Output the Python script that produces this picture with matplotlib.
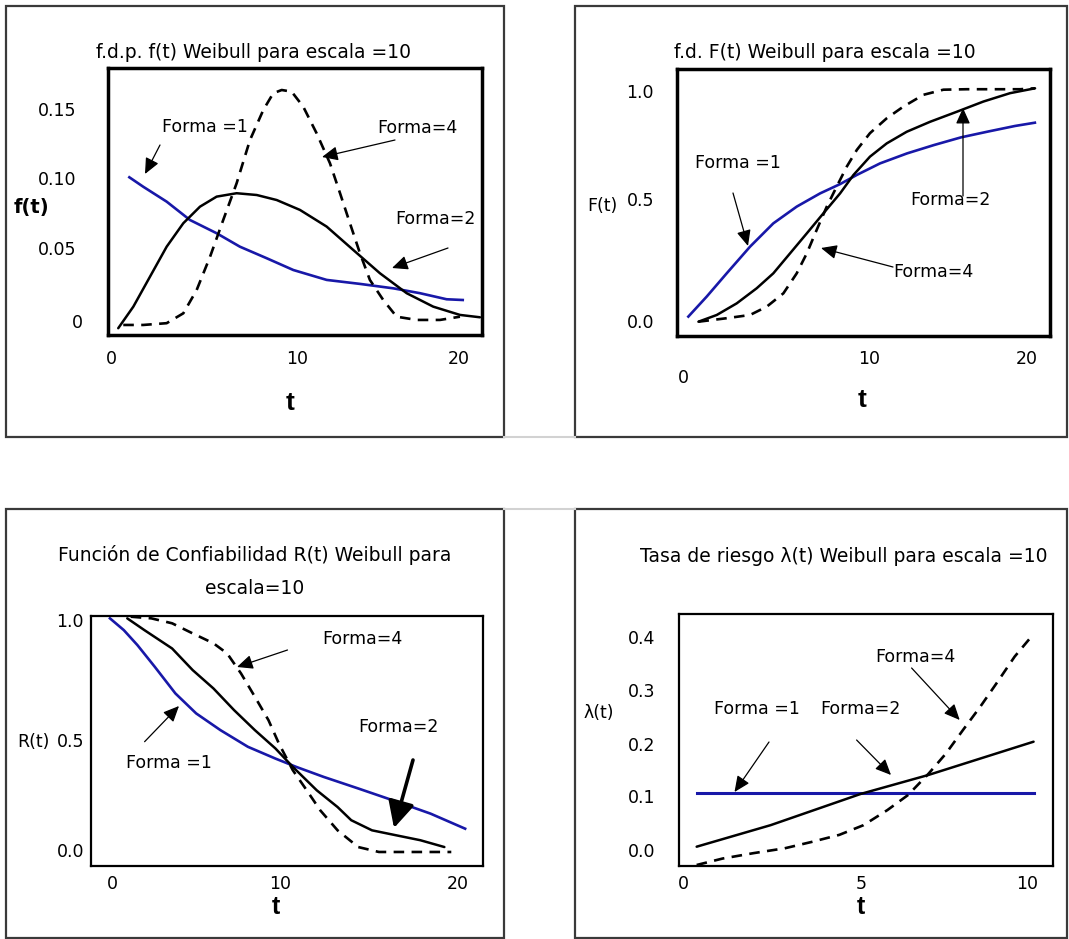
import matplotlib
matplotlib.use("Agg")
import matplotlib.pyplot as plt
from matplotlib.patches import Rectangle, FancyArrowPatch
from matplotlib.lines import Line2D

# ------------------------------------------------------------------ data
# Panel 1: f.d.p. f(t)
pdf_t_k1 = [1.03, 1.83, 3.18, 4.52, 6.06, 7.40, 8.94, 10.48, 12.40, 14.32, 16.24, 17.78, 19.31, 20.24]
pdf_k1 = [0.100, 0.0936, 0.0835, 0.0711, 0.0621, 0.0530, 0.0452, 0.0372, 0.0305, 0.0278, 0.0248, 0.0215, 0.0174, 0.0169]
pdf_t_k2 = [0.39, 1.26, 2.22, 3.18, 4.14, 5.10, 6.06, 7.21, 8.37, 9.52, 10.86, 12.40, 13.93, 15.47, 17.01, 18.54, 20.08, 21.23]
pdf_k2 = [-0.0022, 0.0124, 0.0327, 0.0530, 0.0689, 0.0801, 0.0869, 0.0892, 0.0880, 0.0846, 0.0779, 0.0666, 0.0508, 0.0350, 0.0215, 0.0124, 0.0068, 0.0052]
pdf_t_k4 = [0.68, 1.83, 3.18, 4.14, 4.91, 5.68, 6.44, 7.21, 7.98, 8.75, 9.32, 9.81, 10.38, 11.05, 11.82, 12.59, 13.17, 13.74, 14.32, 14.89, 15.66, 16.43, 17.59, 18.93, 20.08]
pdf_k4 = [0.0, 0.0, 0.0012, 0.0079, 0.0237, 0.0462, 0.0711, 0.0959, 0.1252, 0.1456, 0.1569, 0.1591, 0.1580, 0.1478, 0.1298, 0.1095, 0.0892, 0.0689, 0.0485, 0.0305, 0.0169, 0.0056, 0.0034, 0.0034, 0.0056]

# Panel 2: f.d. F(t)
cdf_t_k1 = [0.85, 1.87, 2.98, 4.28, 5.57, 6.87, 8.17, 9.28, 10.2, 11.5, 13.0, 14.5, 16.0, 17.5, 19.0, 20.1]
cdf_k1 = [0.022, 0.108, 0.208, 0.323, 0.423, 0.495, 0.552, 0.592, 0.631, 0.681, 0.724, 0.760, 0.793, 0.818, 0.842, 0.856]
cdf_t_k2 = [1.41, 2.43, 3.54, 4.65, 5.57, 6.5, 7.43, 8.35, 9.28, 10.02, 10.94, 11.87, 12.98, 14.28, 15.76, 17.24, 18.72, 20.11]
cdf_k2 = [0.0, 0.029, 0.079, 0.144, 0.208, 0.294, 0.380, 0.466, 0.552, 0.631, 0.710, 0.767, 0.817, 0.860, 0.903, 0.947, 0.983, 1.004]
cdf_t_k4 = [1.41, 2.98, 4.28, 5.21, 6.13, 6.87, 7.43, 7.98, 8.54, 9.09, 9.65, 10.21, 10.94, 11.87, 12.79, 13.91, 15.02, 16.32, 17.79, 19.28, 20.11]
cdf_k4 = [0.0, 0.015, 0.029, 0.065, 0.122, 0.208, 0.294, 0.395, 0.495, 0.581, 0.667, 0.739, 0.811, 0.875, 0.925, 0.976, 0.998, 1.0, 1.0, 1.0, 1.004]

# Panel 3: R(t)
rel_t_k1 = [0.01, 0.77, 1.52, 2.47, 3.60, 4.74, 6.07, 7.58, 9.09, 10.22, 11.74, 13.63, 15.52, 17.60, 19.50]
rel_k1 = [0.993, 0.943, 0.879, 0.787, 0.674, 0.589, 0.518, 0.447, 0.397, 0.362, 0.319, 0.270, 0.220, 0.163, 0.099]
rel_t_k2 = [0.96, 1.90, 3.42, 4.55, 5.69, 6.82, 7.96, 9.09, 10.04, 11.36, 12.50, 13.25, 14.39, 15.71, 17.04, 18.36]
rel_k2 = [0.993, 0.943, 0.865, 0.773, 0.695, 0.603, 0.518, 0.440, 0.362, 0.262, 0.191, 0.135, 0.092, 0.071, 0.050, 0.021]
rel_t_k4 = [1.15, 2.28, 3.42, 4.55, 5.69, 6.44, 7.20, 7.96, 8.71, 9.28, 10.04, 10.80, 11.55, 12.50, 13.63, 14.77, 16.66, 18.74]
rel_k4 = [1.0, 0.993, 0.972, 0.929, 0.887, 0.844, 0.759, 0.660, 0.560, 0.461, 0.348, 0.263, 0.177, 0.092, 0.021, 0.0, 0.0, 0.0]

# Panel 4: tasa de riesgo lambda(t)
haz_t_k1 = [0.39, 2.5, 5.0, 7.5, 10.0]
haz_k1 = [0.104, 0.104, 0.104, 0.104, 0.104]
haz_t_k2 = [0.39, 2.5, 5.07, 6.99, 10.0]
haz_k2 = [0.005, 0.045, 0.103, 0.138, 0.200]
haz_t_k4 = [0.39, 1.13, 2.01, 2.90, 3.68, 4.46, 5.15, 5.83, 6.42, 7.01, 7.50, 7.99, 8.48, 8.97, 9.46, 10.0]
haz_k4 = [-0.029, -0.017, -0.007, 0.002, 0.014, 0.027, 0.045, 0.073, 0.101, 0.141, 0.178, 0.222, 0.265, 0.311, 0.358, 0.400]

# texts
titles = ["f.d.p. f(t) Weibull para escala =10",
          "f.d. F(t) Weibull para escala =10",
          "Función de Confiabilidad R(t) Weibull para\nescala=10",
          "Tasa de riesgo λ(t) Weibull para escala =10"]
ylabels = ["f(t)", "F(t)", "R(t)", "λ(t)"]
xlabel = "t"
p1_xticklabels = ["0", "10", "20"]
p1_yticklabels = ["0.15", "0.10", "0.05", "0"]
p2_xticklabels = ["0", "10", "20"]
p2_yticklabels = ["1.0", "0.5", "0.0"]
p3_xticklabels = ["0", "10", "20"]
p3_yticklabels = ["1.0", "0.5", "0.0"]
p4_xticklabels = ["0", "5", "10"]
p4_yticklabels = ["0.4", "0.3", "0.2", "0.1", "0.0"]
lab1, lab2, lab4 = "Forma =1", "Forma=2", "Forma=4"

# ------------------------------------------------------------------ layout (pixels)
W, H = 1069, 939
plt.rcParams["font.family"] = ["DejaVu Sans"]
BLUE = "#1818a8"
FS = 12.5
TFS = 13.5

fig = plt.figure(figsize=(W / 100, H / 100), dpi=100)
fig.patch.set_facecolor("white")


def fp(x, y):
    return (x / W, 1 - y / H)


def add_ax(x0, y0, x1, y1, xlim, ylim, lw):
    ax = fig.add_axes([x0 / W, 1 - y1 / H, (x1 - x0) / W, (y1 - y0) / H])
    ax.set_xlim(*xlim)
    ax.set_ylim(*ylim)
    ax.set_xticks([])
    ax.set_yticks([])
    for s in ax.spines.values():
        s.set_linewidth(lw)
        s.set_color("black")
    ax.set_facecolor("white")
    return ax


def txt(x, y, s, **kw):
    kw.setdefault("fontsize", FS)
    kw.setdefault("ha", "center")
    kw.setdefault("va", "center")
    fig.text(*fp(x, y), s, **kw)


def tlabel(x, y, s, va="center", size=19):
    fig.text(*fp(x, y), s, fontsize=size, fontweight="bold", ha="center", va=va,
             family=["Liberation Sans", "DejaVu Sans"])


def arrow(tail, tip, lw=0.9, hl=0.6, hw=0.27, ms=16):
    fig.add_artist(FancyArrowPatch(
        fp(*tail), fp(*tip), transform=fig.transFigure,
        arrowstyle=f"-|>,head_length={hl},head_width={hw}",
        mutation_scale=ms, lw=lw, color="black", shrinkA=0, shrinkB=0, zorder=10))


# outer frames
for (x0, y0, x1, y1) in [(6, 6, 504, 437), (575, 6, 1067, 437), (6, 509, 504, 938), (575, 509, 1067, 938)]:
    fig.add_artist(Rectangle(fp(x0, y1), (x1 - x0) / W, (y1 - y0) / H, transform=fig.transFigure,
                             fill=False, ec="#3a3a3a", lw=1.6))
for yy in (437, 509):
    fig.add_artist(Line2D([504 / W, 575 / W], [1 - yy / H] * 2, transform=fig.transFigure,
                          color="#d2d2d2", lw=1.5))

solid_kw = dict(color="black", lw=1.8, solid_capstyle="round")
dash_kw = dict(color="black", lw=1.9, ls=(0, (4, 2.8)))
blue_kw = dict(color=BLUE, lw=1.9)

# ---------------- panel 1
ax1 = add_ax(108, 68, 482, 335, (-0.20, 21.35), (-0.0068, 0.174), 2.5)
ax1.plot(pdf_t_k1, pdf_k1, **blue_kw)
ax1.plot(pdf_t_k2, pdf_k2, **solid_kw)
ax1.plot(pdf_t_k4, pdf_k4, **dash_kw)
txt(254, 52, titles[0], fontsize=TFS)
for s, x in zip(p1_xticklabels, [111.5, 297, 458.6]):
    txt(x, 359, s)
for s, (x, y) in zip(p1_yticklabels, [(76, 110.8), (76, 179.7), (76, 249.6), (83, 322.8)]):
    txt(x, y, s, ha="right")
txt(31, 208, ylabels[0], fontsize=14, fontweight="bold")
tlabel(290, 403, xlabel)
txt(205, 127, lab1)
txt(417, 128, lab4)
txt(435, 219, lab2)
arrow((160, 145), (145, 174))
arrow((395, 140), (322, 157))
arrow((448, 248), (392, 268))

# ---------------- panel 2
ax2 = add_ax(677, 69, 1050, 336, (0.22, 20.94), (-0.0615, 1.087), 2.5)
ax2.plot(cdf_t_k1, cdf_k1, **blue_kw)
ax2.plot(cdf_t_k2, cdf_k2, **solid_kw)
ax2.plot(cdf_t_k4, cdf_k4, **dash_kw)
txt(825, 52, titles[1], fontsize=TFS)
for s, (x, y) in zip(p2_xticklabels, [(683, 378), (869, 359), (1027, 359)]):
    txt(x, y, s)
for s, y in zip(p2_yticklabels, [93, 201, 323]):
    txt(654, y, s, ha="right")
txt(602, 206, ylabels[1])
tlabel(862, 400, xlabel)
txt(738, 163, lab1)
txt(950, 200, lab2)
txt(933, 272, lab4)
arrow((733, 193), (748, 246))
arrow((963, 196), (963, 108))
arrow((893, 267), (821, 248))

# ---------------- panel 3
ax3 = add_ax(91, 616, 483, 866, (-1.03, 20.48), (-0.0596, 1.003), 1.6)
ax3.plot(rel_t_k1, rel_k1, **blue_kw)
ax3.plot(rel_t_k2, rel_k2, **solid_kw)
ax3.plot(rel_t_k4, rel_k4, **dash_kw)
for line, y in zip(titles[2].split("\n"), [555, 589]):
    txt(255, y, line, fontsize=TFS)
for s, x in zip(p3_xticklabels, [112, 280.6, 458]):
    txt(x, 884, s)
for s, y in zip(p3_yticklabels, [621.7, 741.7, 851.7]):
    txt(84, y, s, ha="right")
txt(33, 742, ylabels[2])
tlabel(275.5, 895.5, xlabel, va="top", size=18)
txt(362, 639, lab4)
txt(169, 763, lab1)
txt(398, 727, lab2)
arrow((287.5, 650), (237, 667))
arrow((144.6, 741.7), (179, 706))
arrow((413, 760), (394, 828), lw=2.6, hl=0.8, hw=0.4, ms=20)

# ---------------- panel 4
ax4 = add_ax(678.5, 614.3, 1053.2, 865.7, (-0.128, 10.56), (-0.0303, 0.4366), 1.6)
ax4.plot(haz_t_k1, haz_k1, color=BLUE, lw=2.2)
ax4.plot(haz_t_k2, haz_k2, **solid_kw)
ax4.plot(haz_t_k4, haz_k4, **dash_kw)
txt(844, 557, titles[3], fontsize=TFS)
for s, x in zip(p4_xticklabels, [683, 860.7, 1026.7]):
    txt(x, 884, s)
for s, y in zip(p4_yticklabels, [639.3, 691.7, 745.7, 798.3, 851.7]):
    txt(655.5, y, s, ha="right")
txt(599, 713, ylabels[3])
tlabel(860.7, 895.5, xlabel, va="top", size=18)
txt(757, 709, lab1)
txt(860, 709, lab2)
txt(915, 657, lab4)
arrow((769, 742), (734.5, 792))
arrow((856.6, 740), (891, 775))
arrow((911.6, 668), (959.7, 720))

fig.savefig("out.png", dpi=100, facecolor="white")
